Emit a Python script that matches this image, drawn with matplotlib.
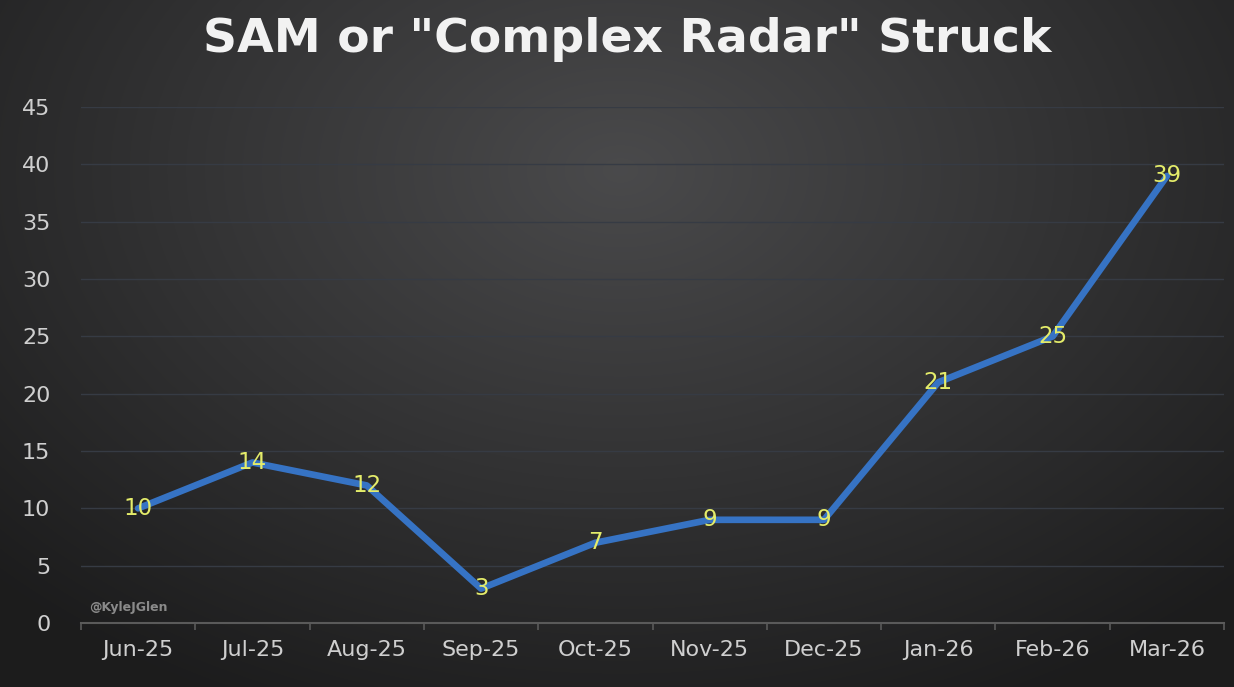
import numpy as np
import matplotlib
matplotlib.use("Agg")
import matplotlib.pyplot as plt

months = ["Jun-25", "Jul-25", "Aug-25", "Sep-25", "Oct-25",
          "Nov-25", "Dec-25", "Jan-26", "Feb-26", "Mar-26"]
strikes = [10, 14, 12, 3, 7, 9, 9, 21, 25, 39]
y_ticks = [0, 5, 10, 15, 20, 25, 30, 35, 40, 45]

fig = plt.figure(figsize=(12.34, 6.87), dpi=100)

# radial gradient background, lightest near the top middle
bg = fig.add_axes([0, 0, 1, 1])
yy, xx = np.mgrid[0:687, 0:1234]
r = np.sqrt(((xx - 620) / 820.0) ** 2 + ((yy - 170) / 560.0) ** 2)
shade = np.clip(0.29 - 0.17 * r, 0.11, 0.29)
img = np.dstack([shade, shade, shade * 1.02])
bg.imshow(np.clip(img, 0, 1), aspect="auto", extent=[0, 1, 0, 1])
bg.axis("off")

ax = fig.add_axes([0.0656, 0.0932, 0.9264, 0.7508])
ax.patch.set_alpha(0)
x = np.arange(len(months))
ax.plot(x, strikes, color="#3673c4", lw=4.8, solid_capstyle="round", zorder=3)
for xi, v in zip(x, strikes):
    ax.text(xi, v, str(v), color="#e4ec6a", fontsize=16.5, ha="center",
            va="center", zorder=4)

ax.set_xlim(-0.5, len(months) - 0.5)
ax.set_ylim(0, 45)
ax.set_yticks(y_ticks)
ax.set_xticks(x)
ax.set_xticklabels(months)
ax.set_xticks(np.arange(-0.5, len(months)), minor=True)
ax.tick_params(axis="x", which="major", length=0, pad=12, labelsize=16,
               labelcolor="#cfcfcf")
ax.tick_params(axis="x", which="minor", length=5, color="#5a5a5a", width=1.2)
ax.tick_params(axis="y", length=0, pad=22, labelsize=16, labelcolor="#cfcfcf")
for lbl in ax.get_yticklabels():
    lbl.set_horizontalalignment("right")

for t in y_ticks[1:]:
    ax.axhline(t, color="#363b44", lw=1.0, zorder=1)
for s in ["top", "right", "left"]:
    ax.spines[s].set_visible(False)
ax.spines["bottom"].set_color("#5a5a5a")
ax.spines["bottom"].set_linewidth(1.5)

fig.text(0.508, 0.943, 'SAM or "Complex Radar" Struck', color="#f2f2f2",
         fontsize=34, fontweight="bold", ha="center", va="center")
fig.text(0.072, 0.116, "@KyleJGlen", color="#8a8a8a", fontsize=9,
         fontweight="bold", ha="left", va="center")

fig.savefig("out.png", dpi=100)
